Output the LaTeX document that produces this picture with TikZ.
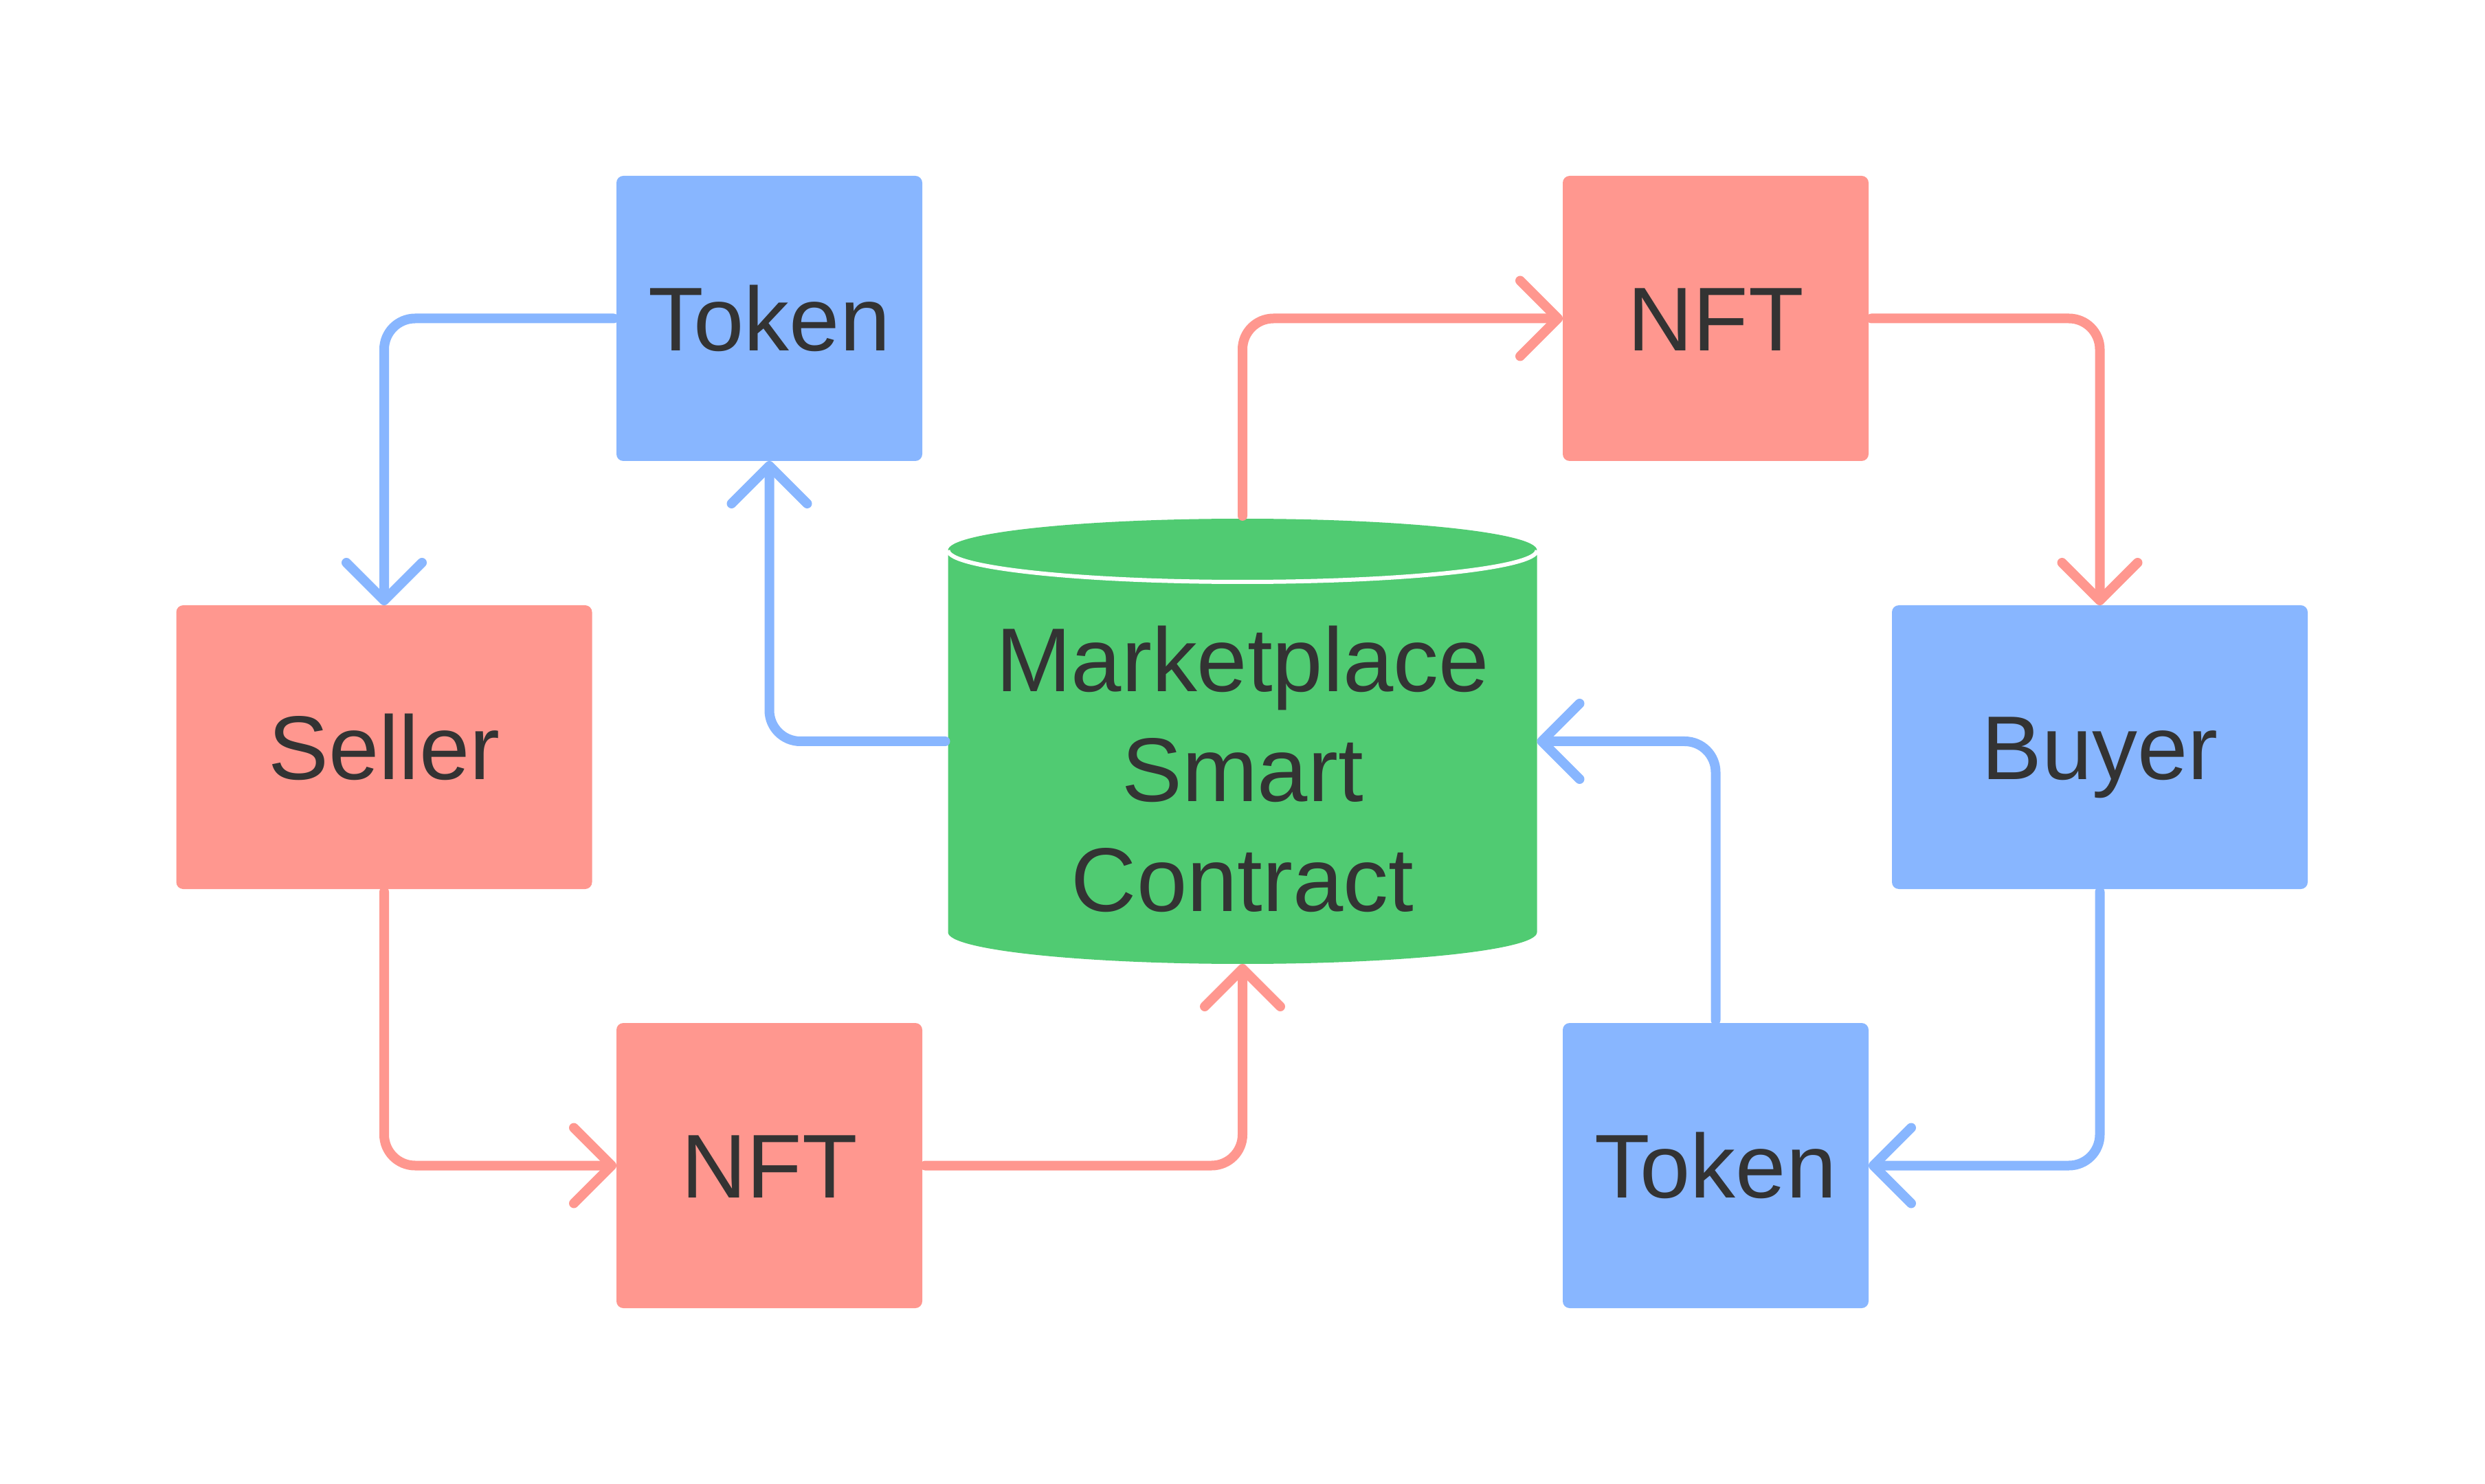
\documentclass[tikz,border=0pt]{standalone}
\usepackage{fontspec}
\setmainfont{Liberation Sans}
\usetikzlibrary{arrows.meta,backgrounds}
\definecolor{tokblue}{HTML}{88B6FF}
\definecolor{nftpink}{HTML}{FF978F}
\definecolor{mktgreen}{HTML}{50CB72}
\definecolor{inkgray}{HTML}{333333}
\tikzset{
  box/.style={rounded corners=0.1cm, outer sep=0pt, text=inkgray,
    text height=26.5pt, text depth=0pt,
    font=\fontsize{37.5}{45.5}\selectfont},
  smallbox/.style={box, minimum width=4.45cm, minimum height=4.15cm},
  widebox/.style={box, minimum width=6.05cm, minimum height=4.13cm},
  mktbox/.style={outer sep=0pt, inner sep=0pt, minimum width=8.57cm, minimum height=6.48cm},
  mktlabel/.style={text=inkgray, align=center, inner sep=0pt,
    font=\fontsize{37.5}{45.5}\selectfont},
  flow/.style={line width=0.14cm, line cap=round, rounded corners=0.45cm,
    shorten <=0.04cm, -{Straight Barb[length=0.55cm,width=1.1cm,round]}},
}
\begin{document}
\begin{tikzpicture}
  \useasboundingbox (0,0) rectangle (36.16,-21.60);
  \path
    (11.195,-4.635) node[smallbox,fill=tokblue] (tokA){Token}
    (24.965,-4.635) node[smallbox,fill=nftpink] (nftA){NFT}
    (5.59,-10.875) node[widebox,fill=nftpink] (seller){Seller}
    (30.555,-10.875) node[widebox,fill=tokblue] (buyer){Buyer}
    (11.195,-16.965) node[smallbox,fill=nftpink] (nftB){NFT}
    (24.965,-16.965) node[smallbox,fill=tokblue] (tokB){Token}
    (18.08,-10.79) node[mktbox] (mkt){};
  \node[mktlabel] (mkttext) at (18.08,-11.195) {Marketplace\\Smart\\Contract};
  \begin{scope}[on background layer]
    \fill[mktgreen] ([yshift=-0.46cm]mkt.north west) -- ([yshift=0.46cm]mkt.south west)
      arc (180:360:4.285 and 0.46) -- ([yshift=-0.46cm]mkt.north east)
      arc (0:180:4.285 and 0.46) -- cycle;
    \draw[white, line width=0.06cm] ([yshift=-0.46cm]mkt.north west)
      arc (180:360:4.285 and 0.46);
  \end{scope}
  \begin{scope}[flow]
    \draw[tokblue] (tokA.west) -| (seller.north);
    \draw[tokblue] (mkt.west) -| (tokA.south);
    \draw[nftpink] (mkt.north) |- (nftA.west);
    \draw[nftpink] (nftA.east) -| (buyer.north);
    \draw[nftpink] (seller.south) |- (nftB.west);
    \draw[nftpink] (nftB.east) -| (mkt.south);
    \draw[tokblue] (buyer.south) |- (tokB.east);
    \draw[tokblue] (tokB.north) |- (mkt.east);
  \end{scope}
\end{tikzpicture}
\end{document}
